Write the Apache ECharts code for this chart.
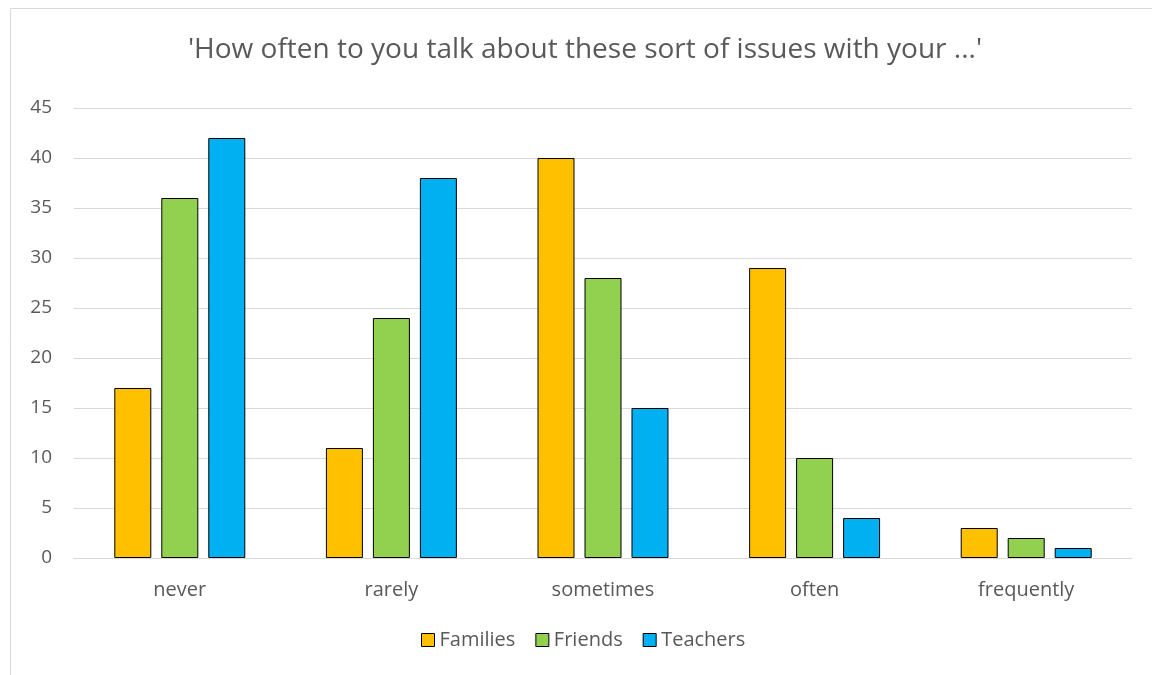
<!DOCTYPE html>
<html>
<head>
<meta charset="utf-8">
<script src="https://cdn.jsdelivr.net/npm/echarts@6/dist/echarts.min.js"></script>
<style>
html,body{margin:0;padding:0;background:#fff;}
#c{width:1152px;height:675px;}
</style>
</head>
<body>
<div id="c"></div>
<script>
const categories = ['never', 'rarely', 'sometimes', 'often', 'frequently'];
const families = [17, 11, 40, 29, 3];
const friends = [36, 24, 28, 10, 2];
const teachers = [42, 38, 15, 4, 1];
const yTicks = [0, 5, 10, 15, 20, 25, 30, 35, 40, 45];
const titleText = "'How often to you talk about these sort of issues with your ...'";

const chart = echarts.init(document.getElementById('c'), null, {renderer: 'canvas'});
const font = '"Open Sans", "Liberation Sans", sans-serif';
const txt = '#595959';
function bar(name, data, color) {
  return {
    name, type: 'bar', data,
    barWidth: 37, barGap: '27%',
    itemStyle: {color, borderColor: '#000', borderWidth: 1}
  };
}
chart.setOption({
  animation: false,
  backgroundColor: '#fff',
  graphic: [{
    type: 'rect', shape: {x: 10.5, y: 8.5, width: 1200, height: 700},
    style: {fill: 'none', stroke: '#d9d9d9', lineWidth: 1}, silent: true
  }, {
    type: 'text', x: 585, y: 50,
    style: {text: titleText, fill: txt, font: '28px ' + font, textAlign: 'center', textVerticalAlign: 'middle'},
    silent: true
  }],
  legend: {
    bottom: 20, left: 416, itemWidth: 13, itemHeight: 13, itemGap: 20,
    icon: 'rect',
    itemStyle: {borderColor: '#000', borderWidth: 1},
    textStyle: {fontFamily: font, fontSize: 20, color: txt},
    data: ['Families', 'Friends', 'Teachers']
  },
  grid: {left: 74, right: 20, top: 108, bottom: 117, containLabel: false},
  xAxis: {
    type: 'category', data: categories,
    axisLine: {lineStyle: {color: '#d9d9d9'}},
    axisTick: {show: false},
    axisLabel: {fontFamily: font, fontSize: 20, color: txt, margin: 22}
  },
  yAxis: {
    type: 'value', min: yTicks[0], max: yTicks[yTicks.length - 1], interval: 5,
    axisLine: {show: false}, axisTick: {show: false},
    splitLine: {lineStyle: {color: '#d9d9d9'}},
    axisLabel: {fontFamily: font, fontSize: 19, color: txt, margin: 22}
  },
  series: [
    bar('Families', families, '#FFC000'),
    bar('Friends', friends, '#92D050'),
    bar('Teachers', teachers, '#00B0F0')
  ]
});
</script>
</body>
</html>
